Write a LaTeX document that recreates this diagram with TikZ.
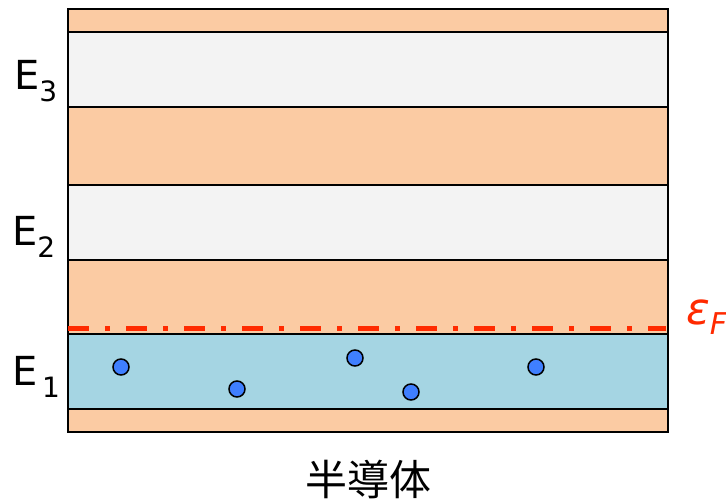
\documentclass[tikz,border=0pt]{standalone}
\usepackage{fontspec}
\setmainfont{DejaVu Sans}
\newfontfamily\cjkfont{Noto Sans CJK JP}
\definecolor{bandorange}{HTML}{FBCBA3}
\definecolor{bandwhite}{HTML}{F3F3F3}
\definecolor{bandblue}{HTML}{A5D5E3}
\definecolor{dotblue}{HTML}{3F7FFF}
\definecolor{fermired}{HTML}{FF2A00}
\begin{document}
\begin{tikzpicture}[x=1pt,y=-1pt,
  electron/.style={circle,draw=black,line width=1.5pt,fill=dotblue,minimum size=16pt,inner sep=0pt},
  elabel/.style={font=\fontsize{40}{40}\selectfont,inner sep=0pt}]
\useasboundingbox (0,0) rectangle (726,503);
\fill[white] (0,0) rectangle (726,503);
% bands
\fill[bandorange] (68,9) rectangle (668,432);
\fill[bandwhite] (68,32) rectangle (668,107);
\fill[bandwhite] (68,185) rectangle (668,260);
\fill[bandblue] (68,334) rectangle (668,409);
\foreach \yy in {32,107,185,260,334,409} \draw[line width=1.8pt] (68,\yy) -- (668,\yy);
\draw[line width=2.6pt] (68,9) rectangle (668,432);
% fermi level
\coordinate (fl) at (68,328);
\coordinate (fr) at (666,328);
\draw[fermired,line width=5pt,dash pattern=on 21pt off 16pt on 5pt off 16pt] (fl) -- (fr);
\node[text=fermired,anchor=base west,inner sep=0pt,font=\fontsize{44}{44}\selectfont] (ef) at (686,324) {\itshape ε\raisebox{-10pt}{\fontsize{30}{30}\selectfont F}};
% electrons
\node[electron] (e1) at (121,367) {};
\node[electron] (e2) at (237,389) {};
\node[electron] (e3) at (355,358) {};
\node[electron] (e4) at (411,392) {};
\node[electron] (e5) at (536,367) {};
% labels
\node[elabel,anchor=base west] (E3) at (14,90) {E\raisebox{-12pt}{\fontsize{28}{28}\selectfont 3}};
\node[elabel,anchor=base west] (E2) at (12,245) {E\raisebox{-12pt}{\fontsize{28}{28}\selectfont 2}};
\node[elabel,anchor=base west] (E1) at (12,385) {E\raisebox{-12pt}{\fontsize{28}{28}\selectfont \,1}};
\node[font=\cjkfont\fontsize{42}{42}\selectfont,inner sep=0pt] (title) at (368,479) {半導体};
\end{tikzpicture}
\end{document}
